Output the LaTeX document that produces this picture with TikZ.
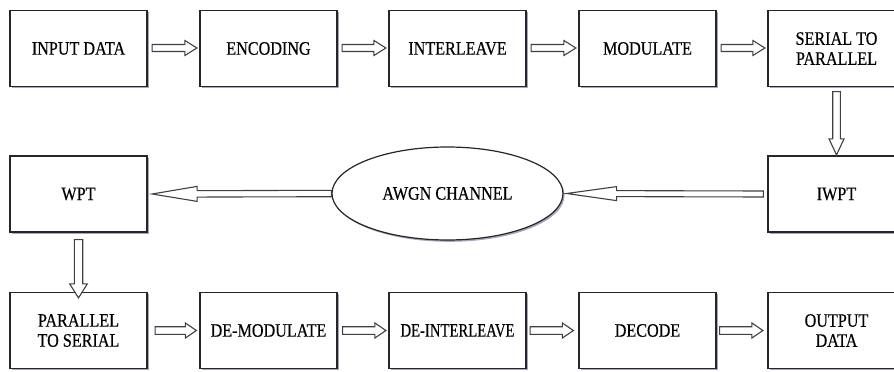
\documentclass[tikz,border=0pt]{standalone}
\usepackage{fontspec}
\setmainfont{Liberation Serif}[FakeStretch=0.85,FakeBold=0.4]
\usetikzlibrary{calc,shapes.geometric,shadows}

% Hollow block arrow: #1 start point, #2 tip, #3 shaft half-width,
% #4 head half-width, #5 head length
\newcommand\blockarrow[5]{%
  \coordinate (ba-s) at (#1);
  \coordinate (ba-t) at (#2);
  \coordinate (ba-h) at ($(ba-t)!#5!(ba-s)$);
  \draw[arrowline]
    ($(ba-s)!#3!90:(ba-t)$) -- ($(ba-h)!#3!-90:(ba-s)$) --
    ($(ba-h)!#4!-90:(ba-s)$) -- (ba-t) --
    ($(ba-h)!#4!90:(ba-s)$) -- ($(ba-h)!#3!90:(ba-s)$) --
    ($(ba-s)!#3!-90:(ba-t)$) -- cycle;
}

\begin{document}
\begin{tikzpicture}[x=1pt,y=-1pt,
  font=\fontsize{19}{20}\selectfont,
  shade/.style={drop shadow={shadow xshift=1.6pt, shadow yshift=-1.8pt,
      fill=blue!30!black, opacity=0.35}},
  block/.style={shade, draw=black!85, line width=1.2pt, fill=white,
      minimum width=137pt, minimum height=76pt, inner sep=0pt, align=center},
  channel/.style={shade, ellipse, draw=black!85, line width=1.2pt, fill=white,
      minimum width=231pt, minimum height=93pt, inner sep=0pt},
  arrowline/.style={draw=black!75, line width=1.1pt, fill=white, line join=miter}
]
\useasboundingbox (0,0) rectangle (894,372);
\clip (0,0) rectangle (894,372);

% transmitter chain
\node[block] (in)   at (78.5,48.5)  {INPUT DATA};
\node[block] (enc)  at (268.5,48.5) {ENCODING};
\node[block] (intl) at (457.5,48.5) {INTERLEAVE};
\node[block] (mod)  at (647.5,48.5) {MODULATE};
\node[block] (s2p)  at (836.5,48.5) {SERIAL TO\\PARALLEL};

% wavelet transforms and channel
\node[block]   (iwpt) at (836.5,194) {IWPT};
\node[channel] (awgn) at (447.5,193.5) {AWGN CHANNEL};
\node[block]   (wpt)  at (78.5,194) {WPT};

% receiver chain
\node[block] (p2s)   at (78.5,330.5)  {PARALLEL\\TO SERIAL};
\node[block] (demod) at (268.5,330.5) {DE-MODULATE};
\node[block] (deint) at (457.5,330.5) {\scalebox{0.91}[1]{DE-INTERLEAVE}};
\node[block] (dec)   at (647.5,330.5) {DECODE};
\node[block] (out)   at (836.5,330.5) {OUTPUT\\DATA};

% connectors, top row
\blockarrow{[xshift=4.5pt,yshift=0.5pt]in.east}{[xshift=-2.5pt,yshift=0.5pt]enc.west}{3.5pt}{7.5pt}{12pt}
\blockarrow{[xshift=4.5pt,yshift=0.5pt]enc.east}{[xshift=-2.5pt,yshift=0.5pt]intl.west}{3.5pt}{7.5pt}{12pt}
\blockarrow{[xshift=4.5pt,yshift=0.5pt]intl.east}{[xshift=-2.5pt,yshift=0.5pt]mod.west}{3.5pt}{7.5pt}{12pt}
\blockarrow{[xshift=4.5pt,yshift=0.5pt]mod.east}{[xshift=-2.5pt,yshift=0.5pt]s2p.west}{3.5pt}{7.5pt}{12pt}

% down to IWPT, across the channel, down to the receiver
\blockarrow{[yshift=-4.5pt]s2p.south}{[yshift=0.5pt]iwpt.north}{3.8pt}{7.5pt}{16pt}
\blockarrow{[xshift=-4pt]iwpt.west}{[xshift=3pt]awgn.east}{3pt}{7pt}{50pt}
\blockarrow{awgn.west}{[xshift=4.5pt]wpt.east}{3.2pt}{7.5pt}{45pt}
\blockarrow{[yshift=-7pt]wpt.south}{[yshift=-6pt]p2s.north}{4.2pt}{8.8pt}{14pt}

% connectors, bottom row
\blockarrow{[xshift=7.5pt]p2s.east}{[xshift=-3pt]demod.west}{3.8pt}{7.5pt}{11pt}
\blockarrow{[xshift=5pt]demod.east}{[xshift=-2.5pt]deint.west}{3.8pt}{7.5pt}{11pt}
\blockarrow{[xshift=3.5pt]deint.east}{[xshift=-5pt]dec.west}{3.8pt}{7.5pt}{11pt}
\blockarrow{[xshift=3pt]dec.east}{[xshift=-4.5pt]out.west}{3.8pt}{7.5pt}{11pt}
\end{tikzpicture}
\end{document}
